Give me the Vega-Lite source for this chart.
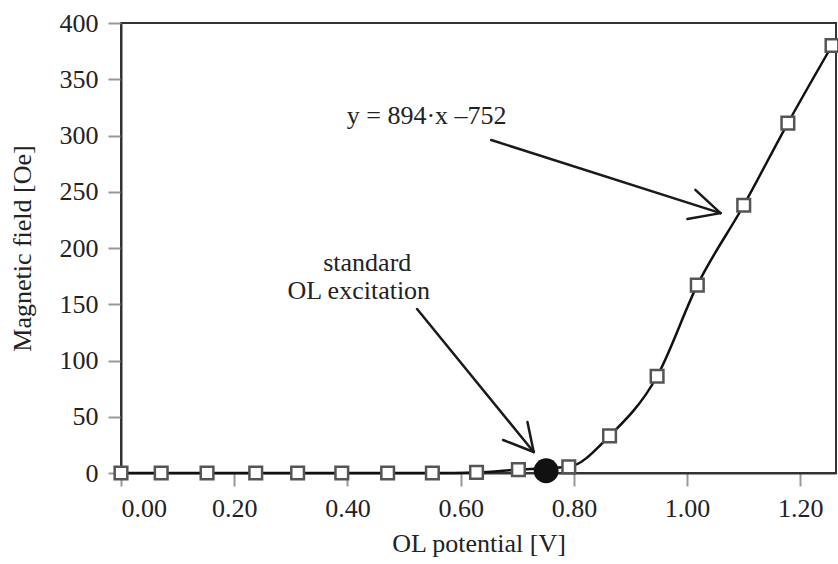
{
  "$schema": "https://vega.github.io/schema/vega-lite/v6.json",
  "autosize": "none",
  "width": 715,
  "height": 450,
  "padding": {"left": 121, "top": 23, "right": 2, "bottom": 91},
  "background": "white",
  "config": {
    "view": {"stroke": "#333", "strokeWidth": 2},
    "font": "Liberation Serif",
    "axis": {
      "labelFont": "Liberation Serif",
      "titleFont": "Liberation Serif",
      "labelFontSize": 26,
      "titleFontSize": 26,
      "titleFontWeight": "normal",
      "labelColor": "#222",
      "titleColor": "#222",
      "domainColor": "#333",
      "domainWidth": 2,
      "tickColor": "#999",
      "tickWidth": 2,
      "tickSize": 13,
      "grid": false
    }
  },
  "datasets": {
    "pts": [
      {"x": 0.0, "y": 0},
      {"x": 0.071, "y": 0},
      {"x": 0.152, "y": 0},
      {"x": 0.238, "y": 0},
      {"x": 0.312, "y": 0},
      {"x": 0.39, "y": 0},
      {"x": 0.471, "y": 0},
      {"x": 0.55, "y": 0},
      {"x": 0.628, "y": 0.5},
      {"x": 0.702, "y": 3},
      {"x": 0.791, "y": 5.5},
      {"x": 0.863, "y": 33},
      {"x": 0.947, "y": 86},
      {"x": 1.018, "y": 167},
      {"x": 1.1, "y": 238},
      {"x": 1.178, "y": 311},
      {"x": 1.256, "y": 380}
    ],
    "dot": [{"x": 0.751, "y": 2}],
    "arrows": [
      {"x": 0.654, "y": 296, "x2": 1.059, "y2": 231},
      {"x": 1.059, "y": 231, "x2": 1.0146, "y2": 251.6},
      {"x": 1.059, "y": 231, "x2": 1.0005, "y2": 225.8},
      {"x": 0.523, "y": 145.8, "x2": 0.729, "y2": 18.7},
      {"x": 0.729, "y": 18.7, "x2": 0.718, "y2": 45.3},
      {"x": 0.729, "y": 18.7, "x2": 0.675, "y2": 29.3}
    ],
    "labels": [
      {"x": 0.54, "y": 317, "text": "y = 894·x –752"},
      {"x": 0.435, "y": 187, "text": "standard"},
      {"x": 0.42, "y": 162, "text": "OL excitation"}
    ]
  },
  "encoding": {
    "x": {
      "field": "x",
      "type": "quantitative",
      "scale": {"domain": [0, 1.263], "nice": false, "zero": false},
      "axis": {
        "title": "OL potential [V]",
        "values": [0, 0.2, 0.4, 0.6, 0.8, 1.0, 1.2],
        "format": ".2f",
        "labelPadding": 9,
        "titlePadding": 9
      }
    },
    "y": {
      "field": "y",
      "type": "quantitative",
      "scale": {"domain": [0, 400], "nice": false},
      "axis": {
        "title": "Magnetic field [Oe]",
        "values": [0, 50, 100, 150, 200, 250, 300, 350, 400],
        "labelPadding": 10,
        "titlePadding": 24
      }
    }
  },
  "layer": [
    {
      "data": {"name": "pts"},
      "mark": {"type": "line", "interpolate": "monotone", "color": "#111", "strokeWidth": 2.5}
    },
    {
      "data": {"name": "pts"},
      "mark": {"type": "point", "shape": "square", "filled": true, "fill": "white", "stroke": "#555", "strokeWidth": 2.5, "size": 160, "opacity": 1}
    },
    {
      "data": {"name": "dot"},
      "mark": {"type": "point", "shape": "circle", "filled": true, "color": "#111", "size": 620, "opacity": 1}
    },
    {
      "data": {"name": "arrows"},
      "mark": {"type": "rule", "color": "#1a1a1a", "strokeWidth": 2.5, "strokeCap": "round"},
      "encoding": {
        "x2": {"field": "x2"},
        "y2": {"field": "y2"}
      }
    },
    {
      "data": {"name": "labels"},
      "mark": {"type": "text", "font": "Liberation Serif", "fontSize": 26, "color": "#222", "align": "center", "baseline": "middle"},
      "encoding": {
        "text": {"field": "text", "type": "nominal"}
      }
    }
  ]
}
